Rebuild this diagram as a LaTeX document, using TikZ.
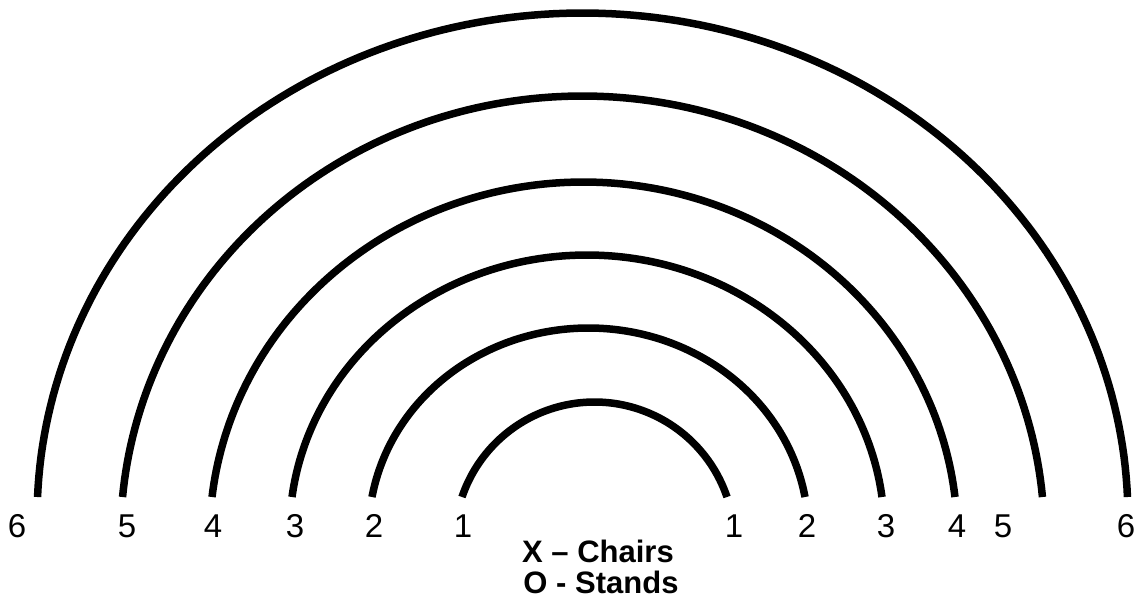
\documentclass[tikz,border=0pt]{standalone}
\usepackage{fontspec}
\setmainfont{Liberation Sans}
\begin{document}
\begin{tikzpicture}[x=1pt,y=-1pt,
  arcline/.style={line width=7.5pt},
  num/.style={font=\fontsize{33}{33}\selectfont, inner sep=0pt},
  legend/.style={font=\bfseries\fontsize{31}{31}\selectfont, inner sep=0pt}]
\useasboundingbox (0,0) rectangle (1135,598);
\fill[white] (0,0) rectangle (1135,598);
\foreach \cx/\hw/\h/\d in {594.5/132.5/95/45, 588.5/216.5/169/35, 587/295/242/35, 583.5/371.5/315/40, 582.5/460/401/40, 582.5/545/484/20} {
  \pgfmathsetmacro\B{\h+\d}
  \pgfmathsetmacro\tz{asin(\d/\B)}
  \pgfmathsetmacro\te{180-\tz}
  \pgfmathsetmacro\A{\hw/cos(\tz)}
  \draw[arcline] plot[domain=\tz:\te, samples=150] ({\cx+\A*cos(\x)},{497+\d-\B*sin(\x)});
}
\node[num] (l6) at (17,526) {6};
\node[num] (l5) at (127,526) {5};
\node[num] (l4) at (213,526) {4};
\node[num] (l3) at (295,526) {3};
\node[num] (l2) at (374,526) {2};
\node[num] (l1) at (463,526) {1};
\node[num] (r1) at (734,526) {1};
\node[num] (r2) at (807,526) {2};
\node[num] (r3) at (886,526) {3};
\node[num] (r4) at (957,526) {4};
\node[num] (r5) at (1003,526) {5};
\node[num] (r6) at (1126,526) {6};
\node[legend] (chairs) at (598,551) {X – Chairs};
\node[legend] (stands) at (601,582) {O - Stands};
\end{tikzpicture}
\end{document}
